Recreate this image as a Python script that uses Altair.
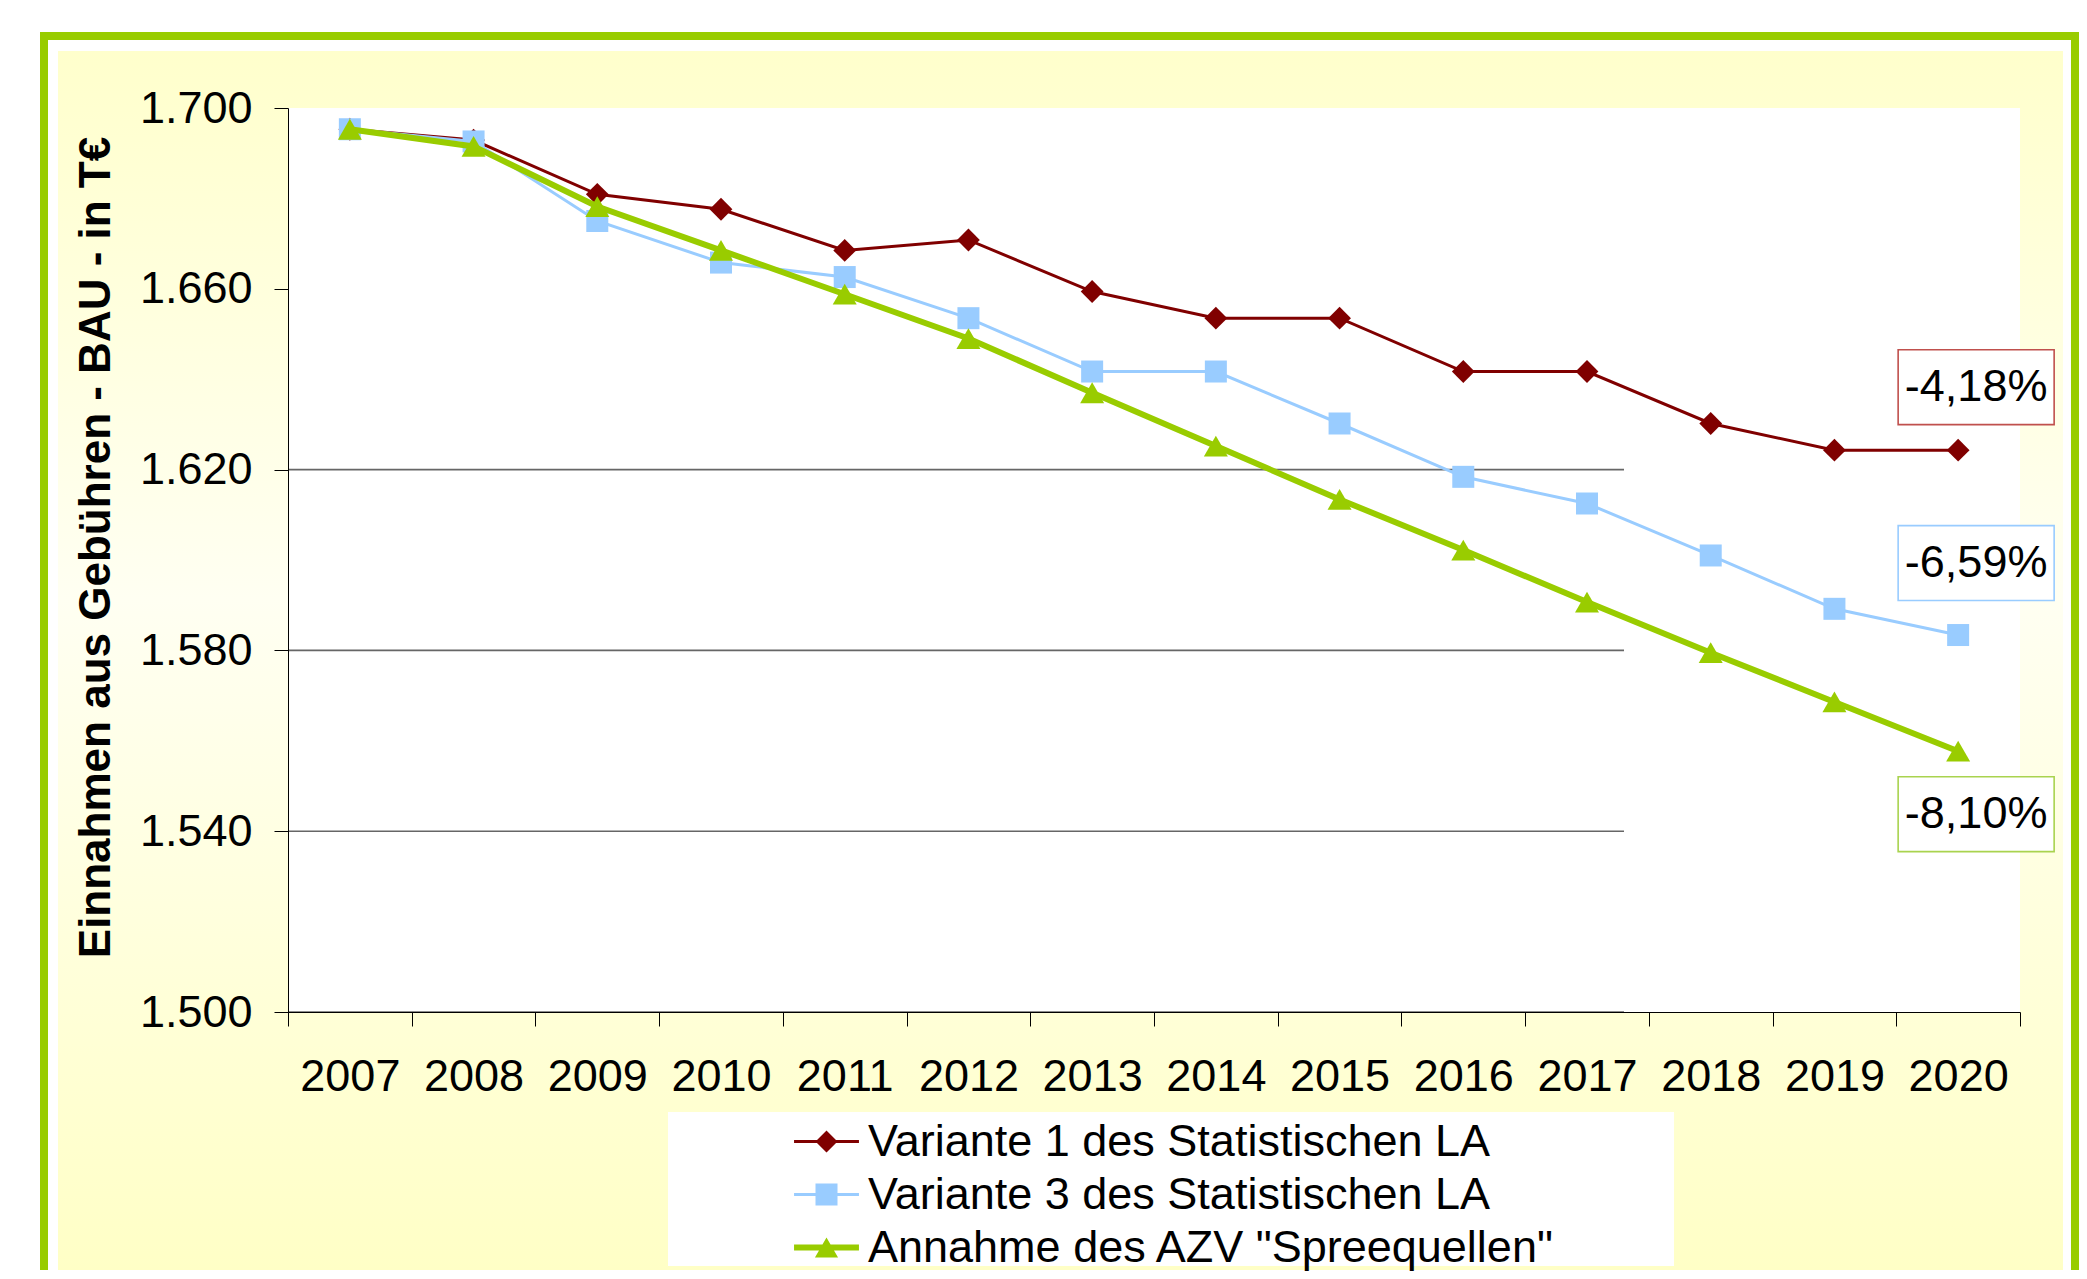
import altair as alt
import pandas as pd

# ---------------- data ----------------
years = [str(y) for y in range(2007, 2021)]
series_names = [
    "Variante 1 des Statistischen LA",
    "Variante 3 des Statistischen LA",
    'Annahme des AZV "Spreequellen"',
]
variante1 = [1695.3, 1692.9, 1680.9, 1677.6, 1668.5, 1670.8, 1659.4,
             1653.5, 1653.5, 1641.7, 1641.7, 1630.2, 1624.3, 1624.3]
variante3 = [1695.3, 1692.6, 1675.0, 1665.8, 1662.6, 1653.5, 1641.7,
             1641.7, 1630.2, 1618.4, 1612.5, 1601.0, 1589.2, 1583.4]
azv = [1695.3, 1691.5, 1678.2, 1668.5, 1658.8, 1649.0, 1637.0,
       1625.2, 1613.4, 1602.2, 1590.7, 1579.5, 1568.6, 1557.7]
change_labels = ["-4,18%", "-6,59%", "-8,10%"]
y_ticks = [1500, 1540, 1580, 1620, 1660, 1700]
grid_values = [1500, 1540, 1580, 1620]
y_title = "Einnahmen aus Gebühren - BAU - in T€"

all_values = [variante1, variante3, azv]
df = pd.DataFrame(
    [{"year": yr, "series": s, "value": v}
     for s, vals in zip(series_names, all_values)
     for yr, v in zip(years, vals)]
)
ann_df = pd.DataFrame({
    "year": [years[-1]] * 3,
    "series": series_names,
    "value": [vals[-1] for vals in all_values],
    "label": change_labels,
})
grid_df = pd.DataFrame({"value": grid_values})

# ---------------- styles ----------------
FONT = "Liberation Sans"
FS = 45
W, H = 1732, 904
colors = ["#800000", "#99ccff", "#99cc00"]
line_widths = [3, 3, 6]
shapes = ["diamond", "square", "triangle-up"]
sizes = [520, 484, 576]
box_colors = ["#c0504d", "#99ccff", "#a9d34f"]
box_dy = [-63, -72, 63]
box_dx = 18
BOX_PATH = "M-1,-0.48H1V0.48H-1Z"
legend_paths = [
    "M-2.95,-0.14H2.95V0.14H-2.95Z M0,-1L1,0L0,1L-1,0Z",
    "M-2.95,-0.14H2.95V0.14H-2.95Z M-1,-1H1V1H-1Z",
    "M-2.95,-0.27H2.95V0.27H-2.95Z M0,-0.9L1.05,0.9L-1.05,0.9Z",
]

x_scale = alt.Scale(type="band", domain=years, paddingInner=0, paddingOuter=0)
y_scale = alt.Scale(domain=[1500, 1700], nice=False, zero=False)

x_enc = alt.X(
    "year:O", scale=x_scale,
    axis=alt.Axis(
        title=None, labelAngle=0, labelFont=FONT, labelFontSize=FS,
        labelColor="black", tickBand="extent", tickSize=14, tickColor="black",
        domainColor="black", labelPadding=28, grid=False, labelFlush=False,
        zindex=1,
    ),
)
y_enc = alt.Y(
    "value:Q", scale=y_scale,
    axis=alt.Axis(
        title=y_title, values=y_ticks,
        labelExpr="replace(format(datum.value, ','), ',', '.')",
        labelFont=FONT, labelFontSize=FS, labelColor="black",
        tickSize=14, tickColor="black", domainColor="black",
        labelPadding=22, grid=False,
        titleFont=FONT, titleFontSize=44, titleFontWeight="bold",
        titleColor="black", titlePadding=21, titleY=439, zindex=1,
    ),
)


def panel(x0, x1, y0, y1, fill):
    return alt.Chart(alt.Data(values=[{"k": 0}])).mark_rect(fill=fill).encode(
        x=alt.value(x0), x2=alt.value(x1), y=alt.value(y0), y2=alt.value(y1)
    )


yellow = alt.LinearGradient(
    gradient="linear", x1=0, x2=0, y1=0, y2=1,
    stops=[
        alt.GradientStop(offset=0, color="#ffffcc"),
        alt.GradientStop(offset=0.45, color="#fffff2"),
        alt.GradientStop(offset=1, color="#ffffc6"),
    ],
)

layers = [
    panel(-248, 1791, -76, 1162, "#99cc00"),
    panel(-240, 1783, -68, 1162, "white"),
    panel(-230, 1775, -57, 1162, yellow),
    panel(0, W, 0, H, "white"),
    panel(380, 1386, 1004, 1158, "white"),
]

# legend carrier (invisible points, real legend)
leg = alt.Legend(
    title=None, orient="none", legendX=516, legendY=1011, direction="vertical",
    labelFont=FONT, labelFontSize=FS, labelColor="black", labelLimit=0,
    symbolSize=484, symbolStrokeWidth=0, symbolOpacity=1, labelOffset=19,
    rowPadding=7, symbolOffset=0, padding=0, zindex=1,
)
layers.append(
    alt.Chart(df).mark_point(filled=True, opacity=0).encode(
        x=x_enc, y=y_enc,
        color=alt.Color("series:N", scale=alt.Scale(domain=series_names, range=colors), legend=leg),
        shape=alt.Shape("series:N", scale=alt.Scale(domain=series_names, range=legend_paths), legend=leg),
    )
)

# gridlines (only partially drawn as in the original)
layers.append(
    alt.Chart(grid_df).mark_rule(color="#666666", strokeWidth=1.6).encode(
        y=y_enc, x=alt.value(0), x2=alt.value(1336)
    )
)

for i, s in enumerate(series_names):
    sdf = df[df["series"] == s]
    layers.append(
        alt.Chart(sdf).mark_line(color=colors[i], strokeWidth=line_widths[i]).encode(x=x_enc, y=y_enc)
    )
    layers.append(
        alt.Chart(sdf).mark_point(
            shape=shapes[i], size=sizes[i], filled=True, color=colors[i],
            opacity=1, strokeWidth=0,
        ).encode(x=x_enc, y=y_enc)
    )

for i in range(3):
    adf = ann_df.iloc[[i]]
    layers.append(
        alt.Chart(adf).mark_point(
            shape=BOX_PATH, size=24336, fill="white", stroke=box_colors[i],
            strokeWidth=1.6, opacity=1, fillOpacity=1, xOffset=box_dx, yOffset=box_dy[i],
        ).encode(x=x_enc, y=y_enc)
    )
    layers.append(
        alt.Chart(adf).mark_text(
            font=FONT, fontSize=FS, color="black", align="center", baseline="middle",
            dx=box_dx, dy=box_dy[i],
        ).encode(x=x_enc, y=y_enc, text="label:N")
    )

chart = alt.layer(*layers).properties(
    width=W, height=H,
    padding={"left": 32, "top": 24, "right": 0, "bottom": 0},
    background="white",
).configure_view(stroke=None)

chart.save("out.html", embed_options={"renderer": "svg", "actions": False})
